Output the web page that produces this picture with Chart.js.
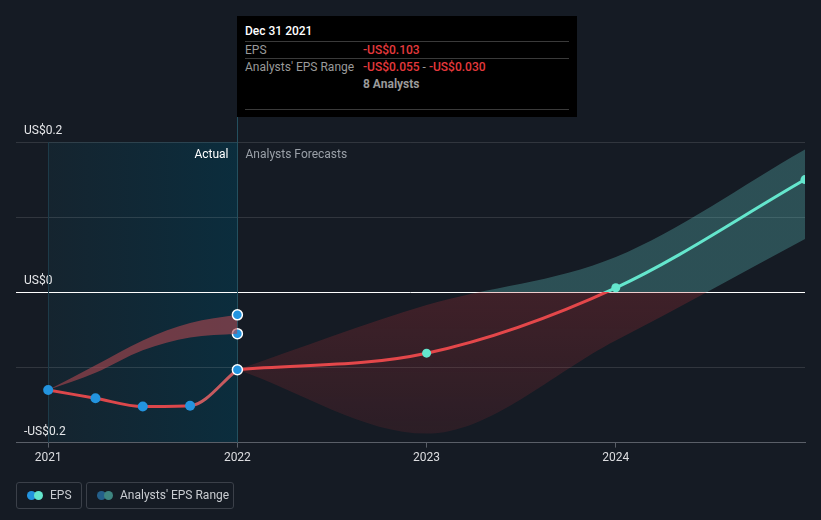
<!DOCTYPE html>
<html>
<head>
<meta charset="utf-8">
<script src="https://cdn.jsdelivr.net/npm/chart.js@4.4.1/dist/chart.umd.min.js"></script>
<style>
  html, body { margin: 0; padding: 0; background: #151b24; }
  body { width: 821px; height: 520px; position: relative; overflow: hidden; font-family: Roboto, "Noto Sans", sans-serif; }
  #chart { position: absolute; left: 0; top: 0; }
  .tip { position: absolute; left: 237px; top: 16px; width: 340px; height: 101px; background: #000; font-size: 12px; }
  .tip div { position: absolute; white-space: nowrap; line-height: 14px; }
  .tip .hr { height: 1px; left: 8px; width: 324px; background: #3a3a3a; }
  .tip .lbl { color: #9a9a9a; left: 8px; }
  .tip .val { color: #e5393c; left: 126px; font-weight: 500; }
  .tip .grey { color: #9a9a9a; }
  .legend { position: absolute; top: 482px; height: 25px; border: 1px solid #3b4049; border-radius: 3px; font-size: 12px; color: #c9ccd1; }
  .legend span.t { position: absolute; top: 5px; line-height: 15px; white-space: nowrap; }
  .dot { position: absolute; top: 8px; width: 9px; height: 9px; border-radius: 50%; }
</style>
</head>
<body>
<canvas id="chart" width="821" height="520"></canvas>

<div class="tip">
  <div style="left:8px; top:8px; color:#fff; font-weight:500;">Dec 31 2021</div>
  <div class="hr" style="top:25px;"></div>
  <div class="lbl" style="top:27px;">EPS</div>
  <div class="val" style="top:27px;">-US$0.103</div>
  <div class="hr" style="top:42px;"></div>
  <div class="lbl" style="top:44px;">Analysts' EPS Range</div>
  <div class="val" style="top:44px;">-US$0.055<span class="grey" style="font-weight:400;"> - </span>-US$0.030</div>
  <div class="grey" style="left:126px; top:61px; font-weight:700;">8 Analysts</div>
  <div class="hr" style="top:93px;"></div>
</div>

<div class="legend" style="left:16px; width:64px;">
  <div class="dot" style="left:10px; background:#2394df;"></div>
  <div class="dot" style="left:17px; background:#64e6cd;"></div>
  <span class="t" style="left:33px;">EPS</span>
</div>
<div class="legend" style="left:86px; width:146px;">
  <div class="dot" style="left:10px; background:#245f8a;"></div>
  <div class="dot" style="left:17px; background:#3e8580;"></div>
  <span class="t" style="left:33px;">Analysts' EPS Range</span>
</div>

<script>
const historyYears = [2021, 2021.25, 2021.5, 2021.75, 2022];
const historyEps = [-0.130, -0.141, -0.152, -0.151, -0.103];
const historyRangeHigh = [-0.130, -0.097, -0.064, -0.041, -0.030];
const historyRangeLow = [-0.130, -0.107, -0.077, -0.060, -0.055];

const forecastYears = [2022, 2023, 2024, 2025];
const forecastEps = [-0.103, -0.081, 0.006, 0.150];
const forecastHigh = [-0.103, -0.017, 0.047, 0.190];
const forecastLow = [-0.103, -0.188, -0.064, 0.071];

const yearTicks = [2021, 2022, 2023, 2024];
const yTickLabels = { "0.2": "US$0.2", "0": "US$0", "-0.2": "-US$0.2" };

const RED = "#e4474a";
const TEAL = "#64e6cd";
const BLUE = "#2394df";

function pts(xs, ys) {
  return xs.map((x, i) => ({ x, y: ys[i] }));
}

// gradient with a hard switch at the zero line
function splitAtZero(chart, above, belowTop, belowBottom) {
  const { ctx, chartArea, scales } = chart;
  if (!chartArea) return belowTop;
  const zero = scales.y.getPixelForValue(0);
  const stop = Math.min(1, Math.max(0, (zero - chartArea.top) / (chartArea.bottom - chartArea.top)));
  const g = ctx.createLinearGradient(0, chartArea.top, 0, chartArea.bottom);
  g.addColorStop(0, above);
  g.addColorStop(stop, above);
  g.addColorStop(stop, belowTop);
  g.addColorStop(1, belowBottom || belowTop);
  return g;
}

const actualRegion = {
  id: "actualRegion",
  beforeDraw(chart) {
    const { ctx, chartArea, scales } = chart;
    const x0 = scales.x.getPixelForValue(2021);
    const x1 = scales.x.getPixelForValue(2022);
    const g = ctx.createLinearGradient(x0, 0, x1, 0);
    g.addColorStop(0, "#15242f");
    g.addColorStop(1, "#0b2d3d");
    ctx.save();
    ctx.fillStyle = g;
    ctx.fillRect(x0, chartArea.top, x1 - x0, chartArea.bottom - chartArea.top);
    ctx.restore();
  },
  beforeDatasetsDraw(chart) {
    const { ctx, chartArea, scales } = chart;
    const x0 = Math.round(scales.x.getPixelForValue(2021)) + 0.5;
    const x1 = Math.round(scales.x.getPixelForValue(2022)) + 0.5;
    ctx.save();
    ctx.lineWidth = 1;
    ctx.strokeStyle = "#1d3b49";
    ctx.beginPath();
    ctx.moveTo(x0, chartArea.top);
    ctx.lineTo(x0, chartArea.bottom);
    ctx.stroke();
    ctx.strokeStyle = "#24505f";
    ctx.beginPath();
    ctx.moveTo(x1, 16);
    ctx.lineTo(x1, chartArea.bottom);
    ctx.stroke();

    ctx.font = "12px Roboto";
    ctx.textBaseline = "middle";
    ctx.textAlign = "right";
    ctx.fillStyle = "#ffffff";
    ctx.fillText("Actual", x1 - 9, chartArea.top + 13);
    ctx.textAlign = "left";
    ctx.fillStyle = "#9aa0a8";
    ctx.fillText("Analysts Forecasts", x1 + 8, chartArea.top + 13);
    ctx.restore();
  },
};

const ctx = document.getElementById("chart").getContext("2d");

new Chart(ctx, {
  type: "line",
  data: {
    datasets: [
      {
        data: pts(historyYears, historyEps),
        borderColor: "#dc474b",
        borderWidth: 3,
        cubicInterpolationMode: "monotone",
        segment: {
          borderColor: (c) => (c.p1DataIndex === historyYears.length - 1 ? "#c65a5f" : undefined),
        },
        pointRadius: 5,
        pointBackgroundColor: BLUE,
        pointBorderColor: (c) => (c.dataIndex === historyYears.length - 1 ? "#ffffff" : BLUE),
        pointBorderWidth: (c) => (c.dataIndex === historyYears.length - 1 ? 1.5 : 0),
        fill: false,
      },
      {
        data: pts(forecastYears, forecastEps),
        borderColor: (c) => splitAtZero(c.chart, TEAL, RED),
        borderWidth: 3,
        cubicInterpolationMode: "monotone",
        pointRadius: (c) => (c.dataIndex === 0 ? 0 : 4.5),
        pointBackgroundColor: TEAL,
        pointBorderWidth: 0,
        fill: false,
      },
      {
        data: pts(historyYears, historyRangeHigh),
        borderWidth: 0,
        cubicInterpolationMode: "monotone",
        backgroundColor: "rgba(175,72,80,0.6)",
        fill: "+1",
        pointRadius: (c) => (c.dataIndex === historyYears.length - 1 ? 5 : 0),
        pointBackgroundColor: BLUE,
        pointBorderColor: "#ffffff",
        pointBorderWidth: 1.5,
      },
      {
        data: pts(historyYears, historyRangeLow),
        borderWidth: 0,
        cubicInterpolationMode: "monotone",
        fill: false,
        pointRadius: (c) => (c.dataIndex === historyYears.length - 1 ? 5 : 0),
        pointBackgroundColor: BLUE,
        pointBorderColor: "#ffffff",
        pointBorderWidth: 1.5,
      },
      {
        data: pts(forecastYears, forecastHigh),
        borderWidth: 0,
        cubicInterpolationMode: "monotone",
        backgroundColor: (c) => splitAtZero(c.chart, "rgba(100,204,199,0.3)", "rgba(190,50,55,0.25)", "rgba(190,50,55,0.13)"),
        fill: "+1",
        pointRadius: 0,
      },
      {
        data: pts(forecastYears, forecastLow),
        borderWidth: 0,
        cubicInterpolationMode: "monotone",
        fill: false,
        pointRadius: 0,
      },
    ],
  },
  options: {
    responsive: false,
    animation: false,
    events: [],
    layout: { padding: { top: 142, left: 0, right: 16, bottom: 52 } },
    plugins: {
      legend: { display: false },
      tooltip: { enabled: false },
    },
    scales: {
      x: {
        type: "linear",
        min: 2020.83,
        max: 2025,
        afterBuildTicks: (axis) => {
          axis.ticks = yearTicks.map((v) => ({ value: v }));
        },
        ticks: {
          color: "#dcdde0",
          font: { family: "Roboto", size: 12 },
          padding: 3,
          maxRotation: 0,
          callback: (v) => String(v),
        },
        grid: { drawOnChartArea: false, color: "#5a5f68", tickLength: 5 },
        border: { color: "#5a5f68" },
      },
      y: {
        min: -0.2,
        max: 0.2,
        ticks: {
          stepSize: 0.1,
          mirror: true,
          padding: 8,
          labelOffset: -11,
          color: "#e6e7ea",
          font: { family: "Roboto", size: 12 },
          callback: (v) => yTickLabels[String(Math.round(v * 10) / 10)] || "",
        },
        grid: {
          drawTicks: false,
          color: (c) => {
            const v = Math.round(c.tick.value * 10) / 10;
            if (v === 0) return "#ffffff";
            if (v === -0.2) return "#5a5f68";
            return "rgba(255,255,255,0.12)";
          },
        },
        border: { display: false },
      },
    },
  },
  plugins: [actualRegion],
});
</script>
</body>
</html>
